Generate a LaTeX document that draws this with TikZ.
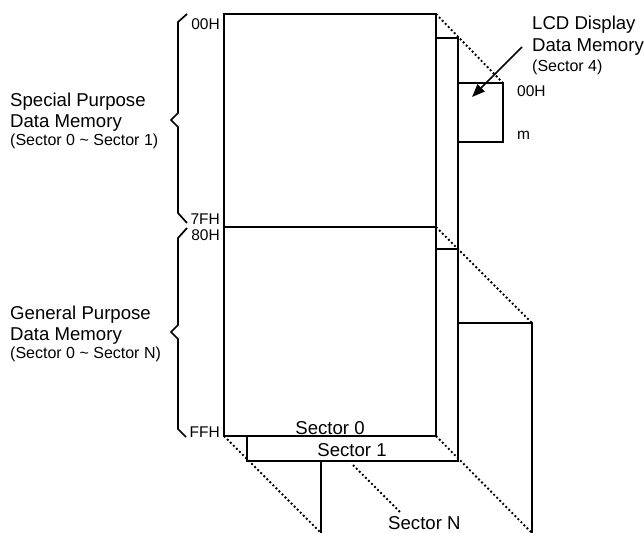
\documentclass[tikz,border=0pt]{standalone}
\usepackage{fontspec}
\setmainfont{Liberation Sans}
\usetikzlibrary{arrows.meta}
\tikzset{
  solidln/.style={line width=1.7pt},
  dotln/.style={line width=1.9pt, dash pattern=on 1.9pt off 2.4pt},
  big/.style={font=\fontsize{18.6}{21}\selectfont, inner sep=0pt},
  small/.style={font=\fontsize{16}{18}\selectfont, inner sep=0pt},
  addr/.style={font=\fontsize{15.5}{17}\selectfont, inner sep=0pt},
}
\begin{document}
\begin{tikzpicture}[x=1pt,y=-1pt]
\useasboundingbox (0,0) rectangle (644,533);
% key points
\coordinate (s0tl) at (224,14);
\coordinate (s0tr) at (436,14);
\coordinate (s0ml) at (224,227);
\coordinate (s0mr) at (436,227);
\coordinate (s0bl) at (224,436);
\coordinate (s0br) at (436,436);
\coordinate (s1tr) at (458,38);
\coordinate (s1tl) at (436,38);
\coordinate (s1ml) at (436,249);
\coordinate (s1mr) at (458,249);
\coordinate (s1br) at (458,461);
\coordinate (s1bl) at (247,461);
\coordinate (s1blt) at (247,436);
\coordinate (snml) at (458,323);
\coordinate (snmr) at (532,323);
\coordinate (snbr) at (532,533);
\coordinate (snlt) at (321,461);
\coordinate (snlb) at (321,533);
\coordinate (lcdtl) at (458,83);
\coordinate (lcdtr) at (503,83);
\coordinate (lcdbr) at (503,142);
\coordinate (lcdbl) at (458,142);
\coordinate (ldtail) at (353,465);
\coordinate (ldhead) at (401,513);
\coordinate (artail) at (522,47);
\coordinate (arhead) at (472,97);

% Sector 0
\draw[solidln] (s0tl) rectangle (s0br);
\draw[solidln] (s0ml) -- (s0mr);
% Sector 1
\draw[solidln] (s1tl) -- (s1tr) -- (s1br) -- (s1bl) -- (s1blt);
\draw[solidln] (s1ml) -- (s1mr);
% Sector N
\draw[solidln] (snml) -- (snmr) -- (snbr);
\draw[solidln] (snlt) -- (snlb);
% LCD box
\draw[solidln] (lcdtl) -- (lcdtr) -- (lcdbr) -- (lcdbl);
% dotted perspective lines
\draw[dotln] (s0tr) -- (lcdtr);
\draw[dotln] (s0mr) -- (snmr);
\draw[dotln] (s0br) -- (snbr);
\draw[dotln] (s0bl) -- (snlb);
\draw[dotln] (ldtail) -- (ldhead);
% arrow
\draw[solidln, -{Triangle[length=13pt,width=10pt]}] (artail) -- (arhead);

% braces
\draw[solidln, line join=miter] (187,14) -- (178,22) -- (178,113) -- (171,120) -- (178,127) -- (178,213) -- (187,223);
\draw[solidln, line join=miter] (187,228) -- (178,238) -- (178,325) -- (171,332) -- (178,339) -- (178,429) -- (186,437);

% addresses
\node[addr, anchor=base east] (a00) at (220,29) {00H};
\node[addr, anchor=base east] (a7f) at (220,224) {7FH};
\node[addr, anchor=base east] (a80) at (220,240) {80H};
\node[addr, anchor=base east] (aff) at (220,437) {FFH};
\node[addr, anchor=base west] (l00) at (517,96) {00H};
\node[addr, anchor=base west] (lm) at (517,139) {m};

% left labels
\node[big, anchor=base west] (sp1) at (10,106) {Special Purpose};
\node[big, anchor=base west] (sp2) at (10,127) {Data Memory};
\node[small, anchor=base west] (sp3) at (10,145) {(Sector 0 \textasciitilde{} Sector 1)};
\node[big, anchor=base west] (gp1) at (10,319) {General Purpose};
\node[big, anchor=base west] (gp2) at (10,340) {Data Memory};
\node[small, anchor=base west] (gp3) at (10,358) {(Sector 0 \textasciitilde{} Sector N)};

% LCD label
\node[big, anchor=base west] (lcd1) at (532,29) {LCD Display};
\node[big, anchor=base west] (lcd2) at (532,51) {Data Memory};
\node[small, anchor=base west] (lcd3) at (532,71) {(Sector 4)};

% sector labels
\node[big, anchor=base] (sec0) at (330,434) {Sector 0};
\node[big, anchor=base] (sec1) at (352,456) {Sector 1};
\node[big, anchor=base west] (secn) at (388,529) {Sector N};
\end{tikzpicture}
\end{document}
